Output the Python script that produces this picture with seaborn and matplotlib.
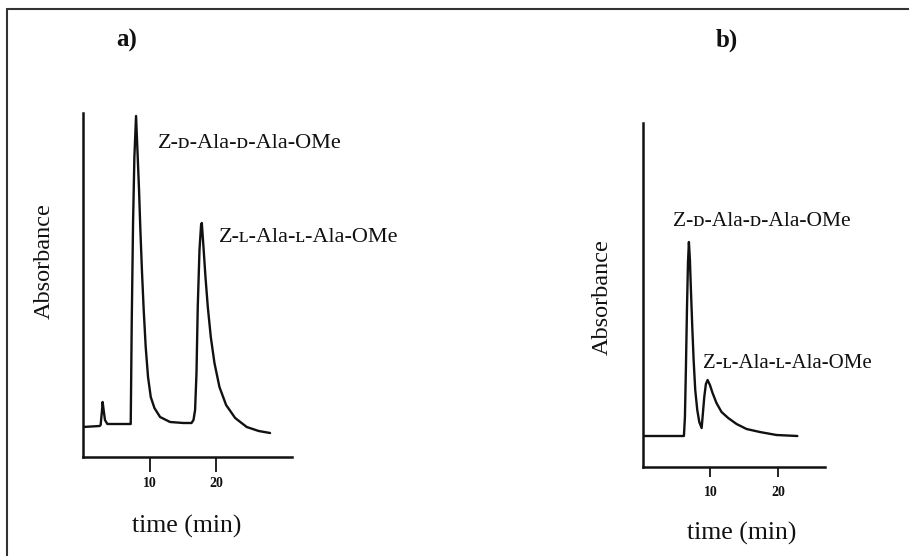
import pandas as pd
import matplotlib.pyplot as plt
import seaborn as sns
from matplotlib.lines import Line2D

# =============================================================================
# Chromatogram traces (time in min, absorbance in a.u.)
# =============================================================================
time_a = [0.0, 2.5, 2.65, 2.86, 2.95, 3.1, 3.3, 3.66, 7.17, 7.32, 7.52, 7.72, 7.97,
          8.22, 8.42, 8.62, 8.87, 9.12, 9.42, 9.77, 10.18, 10.73, 11.58, 13.08,
          15.1, 16.3, 16.6, 16.84, 17.05, 17.24, 17.5, 17.74, 17.85,
          18.1, 18.4, 18.75, 19.2, 19.75, 20.5, 21.5, 22.86, 24.6, 26.4, 28.1]
abs_a = [30, 31, 32, 47, 55, 47, 37, 33, 33, 134, 234, 300, 341,
         300, 267, 227, 184, 147, 110, 80, 60, 49, 40, 35,
         34, 34, 37, 47, 84, 150, 207, 232, 234,
         210, 180, 150, 120, 94, 70, 52, 39, 30, 26, 24]

time_b = [0.0, 6.07, 6.22, 6.37, 6.52, 6.67, 6.81, 6.96, 7.11, 7.31, 7.51, 7.75,
          8.05, 8.35, 8.7, 8.89, 9.09, 9.33, 9.58, 9.93, 10.32, 10.9, 11.65,
          12.64, 13.88, 15.36, 17.33, 19.8, 22.9]
abs_b = [31, 31, 50, 100, 157, 204, 225, 207, 177, 140, 107, 77,
         57, 45, 39, 54, 70, 83, 87, 82, 74, 64, 55,
         49, 43, 38, 35, 32, 31]

x_ticks = [10, 20]
panel_labels = ['a)', 'b)']
peak_names = ['Z-\u1d05-Ala-\u1d05-Ala-OMe', 'Z-\u029f-Ala-\u029f-Ala-OMe']

sns.set_style('white')
plt.rcParams['font.family'] = ['Liberation Serif', 'DejaVu Serif']

INK = '#111111'

fig = plt.figure(figsize=(9.09, 5.56), dpi=100)
W, H = 909, 556

def px_axes(x0, y_top, x1, y_bot):
    return fig.add_axes([x0 / W, 1 - y_bot / H, (x1 - x0) / W, (y_bot - y_top) / H])

ax_a = px_axes(83, 113, 292, 457)
ax_b = px_axes(643, 123, 825, 467)

df_a = pd.DataFrame({'time': time_a, 'absorbance': abs_a})
df_b = pd.DataFrame({'time': time_b, 'absorbance': abs_b})

sns.lineplot(data=df_a, x='time', y='absorbance', ax=ax_a, color=INK, lw=1.7)
sns.lineplot(data=df_b, x='time', y='absorbance', ax=ax_b, color=INK, lw=1.7)

ax_a.set_xlim(0, 31.4)
ax_b.set_xlim(0, 27.0)
for ax, tlen, tpad in [(ax_a, 10.5, 4), (ax_b, 7.5, 6)]:
    ax.set_ylim(0, 344)
    ax.set_xticks(x_ticks)
    ax.set_xticklabels([str(t) for t in x_ticks], fontsize=10, fontweight='bold', color=INK)
    ax.set_yticks([])
    ax.tick_params(axis='x', direction='out', length=tlen, width=1.3,
                   color=INK, pad=tpad, bottom=True)
    for side in ['top', 'right']:
        ax.spines[side].set_visible(False)
    for side in ['left', 'bottom']:
        ax.spines[side].set_color(INK)
        ax.spines[side].set_linewidth(1.8)
    ax.set_xlabel('time (min)', fontsize=18.5, color=INK)
    ax.set_ylabel('Absorbance', fontsize=17.5, color=INK)
    ax.patch.set_alpha(0)

ax_a.xaxis.set_label_coords(0.498, -0.169)
ax_a.yaxis.set_label_coords(-0.134, 0.57)
ax_b.xaxis.set_label_coords(0.544, -0.16)
ax_b.yaxis.set_label_coords(-0.165, 0.494)

# peak labels
lab = dict(va='center', ha='left', color=INK)
ax_a.text(11.3, 314, peak_names[0], fontsize=16, **lab)
ax_a.text(20.4, 219, peak_names[1], fontsize=16, **lab)
ax_b.text(4.5, 245, peak_names[0], fontsize=15.5, **lab)
ax_b.text(8.9, 104, peak_names[1], fontsize=15, **lab)

# panel letters
fig.text(127 / W, 1 - 40 / H, panel_labels[0], fontsize=18, fontweight='bold',
         ha='center', va='center', color=INK)
fig.text(727 / W, 1 - 40 / H, panel_labels[1], fontsize=18, fontweight='bold',
         ha='center', va='center', color=INK)

# frame lines from the scanned page
fig.add_artist(Line2D([7 / W, 1.0], [1 - 9 / H, 1 - 9 / H], color='#333333', lw=1.5))
fig.add_artist(Line2D([7 / W, 7 / W], [0.0, 1 - 9 / H], color='#333333', lw=1.5))

fig.savefig('out.png', dpi=100)
